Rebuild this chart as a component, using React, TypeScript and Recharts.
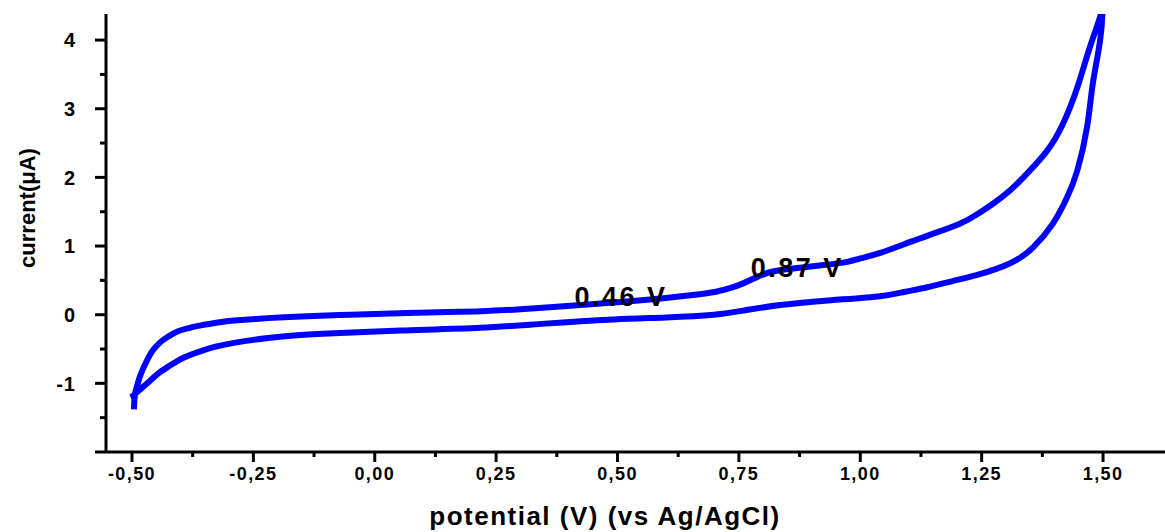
import { Line, LineChart, ReferenceDot, XAxis, YAxis } from "recharts";

// Anodic (forward) scan, -0.5 V -> 1.5 V
const forwardPotential = [
  -0.496, -0.494, -0.49, -0.485, -0.478, -0.47, -0.461, -0.45, -0.438, -0.426, -0.405, -0.38, -0.358,
  -0.32, -0.29, -0.22, -0.152, -0.05, 0.053, 0.15, 0.218, 0.3, 0.36, 0.424, 0.5, 0.595, 0.66, 0.7,
  0.733, 0.76, 0.788, 0.82, 0.87, 0.92, 0.973, 1.0, 1.041, 1.103, 1.15, 1.206, 1.24, 1.274, 1.31,
  1.344, 1.385, 1.418, 1.447, 1.473, 1.494, 1.499,
];
const forwardCurrent = [
  -1.38, -1.17, -1.05, -0.93, -0.8, -0.68, -0.56, -0.46, -0.38, -0.32, -0.24, -0.19, -0.155,
  -0.11, -0.085, -0.05, -0.025, 0.0, 0.02, 0.04, 0.05, 0.08, 0.11, 0.14, 0.18, 0.24, 0.29, 0.33,
  0.39, 0.46, 0.55, 0.63, 0.68, 0.72, 0.77, 0.82, 0.9, 1.06, 1.18, 1.33, 1.46, 1.62, 1.82,
  2.06, 2.39, 2.79, 3.31, 3.9, 4.34, 4.45,
];

// Cathodic (reverse) scan, 1.5 V -> -0.5 V
const reversePotential = [
  1.494, 1.479, 1.467, 1.447, 1.426, 1.397, 1.356, 1.309, 1.241, 1.19, 1.138, 1.09, 1.041, 0.94,
  0.835, 0.76, 0.698, 0.6, 0.492, 0.35, 0.218, 0.053, -0.084, -0.16, -0.22, -0.29, -0.33, -0.358,
  -0.395, -0.426, -0.445, -0.461, -0.48, -0.496, -0.503,
];
const reverseCurrent = [
  4.0, 3.37, 2.73, 2.1, 1.71, 1.33, 0.98, 0.75, 0.58, 0.49, 0.4, 0.33, 0.27, 0.21,
  0.14, 0.06, 0.0, -0.04, -0.07, -0.13, -0.19, -0.23, -0.27, -0.3, -0.34, -0.41, -0.47, -0.53,
  -0.63, -0.76, -0.85, -0.95, -1.07, -1.17, -1.2,
];

const potentialTicks = [
  -0.5, -0.375, -0.25, -0.125, 0, 0.125, 0.25, 0.375, 0.5, 0.625, 0.75, 0.875, 1, 1.125, 1.25,
  1.375, 1.5,
];
const currentTicks = [-2, -1.5, -1, -0.5, 0, 0.5, 1, 1.5, 2, 2.5, 3, 3.5, 4];

const peakPotentials = [0.46, 0.87];
const peakLabelCurrents = [0.27, 0.685];
const peakLabels = ["0.46 V", "0.87 V"];
const peakLabelShift = [23, 0];

const cycle = [
  ...forwardPotential.map((e, i) => ({ e, i: forwardCurrent[i] })),
  ...reversePotential.map((e, i) => ({ e, i: reverseCurrent[i] })),
];

const FONT = '"Liberation Sans", Arial, Helvetica, sans-serif';

function PotentialTick({ x, y, payload }: any) {
  const v = payload.value as number;
  const major = Math.abs(v * 4 - Math.round(v * 4)) < 1e-6;
  return (
    <g>
      <line x1={x} x2={x} y1={y} y2={y + (major ? 10 : 5)} stroke="#000" strokeWidth={3} />
      {major && (
        <text
          x={x}
          y={y + 28}
          textAnchor="middle"
          fontFamily={FONT}
          fontWeight="bold"
          fontSize={18}
          letterSpacing={1.4}
          fill="#000"
        >
          {v.toFixed(2).replace(".", ",")}
        </text>
      )}
    </g>
  );
}

function CurrentTick({ x, y, payload }: any) {
  const v = payload.value as number;
  const major = Number.isInteger(v);
  return (
    <g>
      <line x1={x} x2={x - (major ? 11 : 6)} y1={y} y2={y} stroke="#000" strokeWidth={3} />
      {major && v > -2 && (
        <text
          x={x - 30}
          y={y}
          dy="0.36em"
          textAnchor="end"
          fontFamily={FONT}
          fontWeight="bold"
          fontSize={20}
          letterSpacing={1}
          fill="#000"
        >
          {v}
        </text>
      )}
    </g>
  );
}

function PeakLabel({ viewBox, text, shift }: any) {
  return (
    <text
      x={viewBox.x + shift}
      y={viewBox.y}
      dy="0.36em"
      textAnchor="middle"
      fontFamily={FONT}
      fontWeight="bold"
      fontSize={27}
      letterSpacing={2.5}
      fill="#000"
    >
      {text}
    </text>
  );
}

export default function App() {
  return (
    <div style={{ width: 1165, height: 532, background: "#fff" }}>
      <style>{"body{margin:0}"}</style>
      <LineChart width={1165} height={532} data={cycle} margin={{ top: 14, right: 0, bottom: 0, left: 0 }}>
        <XAxis
          dataKey="e"
          type="number"
          domain={[-0.5535, 1.6276]}
          allowDataOverflow
          ticks={potentialTicks}
          interval={0}
          height={80}
          tickSize={0}
          tickMargin={0}
          tickLine={false}
          axisLine={{ stroke: "#000", strokeWidth: 3 }}
          tick={<PotentialTick />}
          label={{
            content: () => (
              <text
                x={605}
                y={525}
                textAnchor="middle"
                fontFamily={FONT}
                fontWeight="bold"
                fontSize={26}
                letterSpacing={1.5}
                fill="#000"
              >
                potential (V) (vs Ag/AgCl)
              </text>
            ),
          }}
        />
        <YAxis
          type="number"
          domain={[-2, 4.38]}
          allowDataOverflow
          ticks={currentTicks}
          interval={0}
          width={106}
          tickSize={0}
          tickMargin={0}
          tickLine={false}
          axisLine={{ stroke: "#000", strokeWidth: 3 }}
          tick={<CurrentTick />}
          label={{
            content: () => (
              <text
                transform="translate(35, 208) rotate(-90)"
                textAnchor="middle"
                fontFamily={FONT}
                fontWeight="bold"
                fontSize={22}
                fill="#000"
              >
                current(μA)
              </text>
            ),
          }}
        />
        <Line
          dataKey="i"
          type="natural"
          stroke="#0000ff"
          strokeWidth={6}
          strokeLinejoin="round"
          dot={false}
          activeDot={false}
          isAnimationActive={false}
        />
        {peakPotentials.map((p, k) => (
          <ReferenceDot
            key={peakLabels[k]}
            x={p}
            y={peakLabelCurrents[k]}
            r={0}
            fill="none"
            stroke="none"
            label={{ content: (props: any) => <PeakLabel {...props} text={peakLabels[k]} shift={peakLabelShift[k]} /> }}
          />
        ))}
      </LineChart>
    </div>
  );
}
